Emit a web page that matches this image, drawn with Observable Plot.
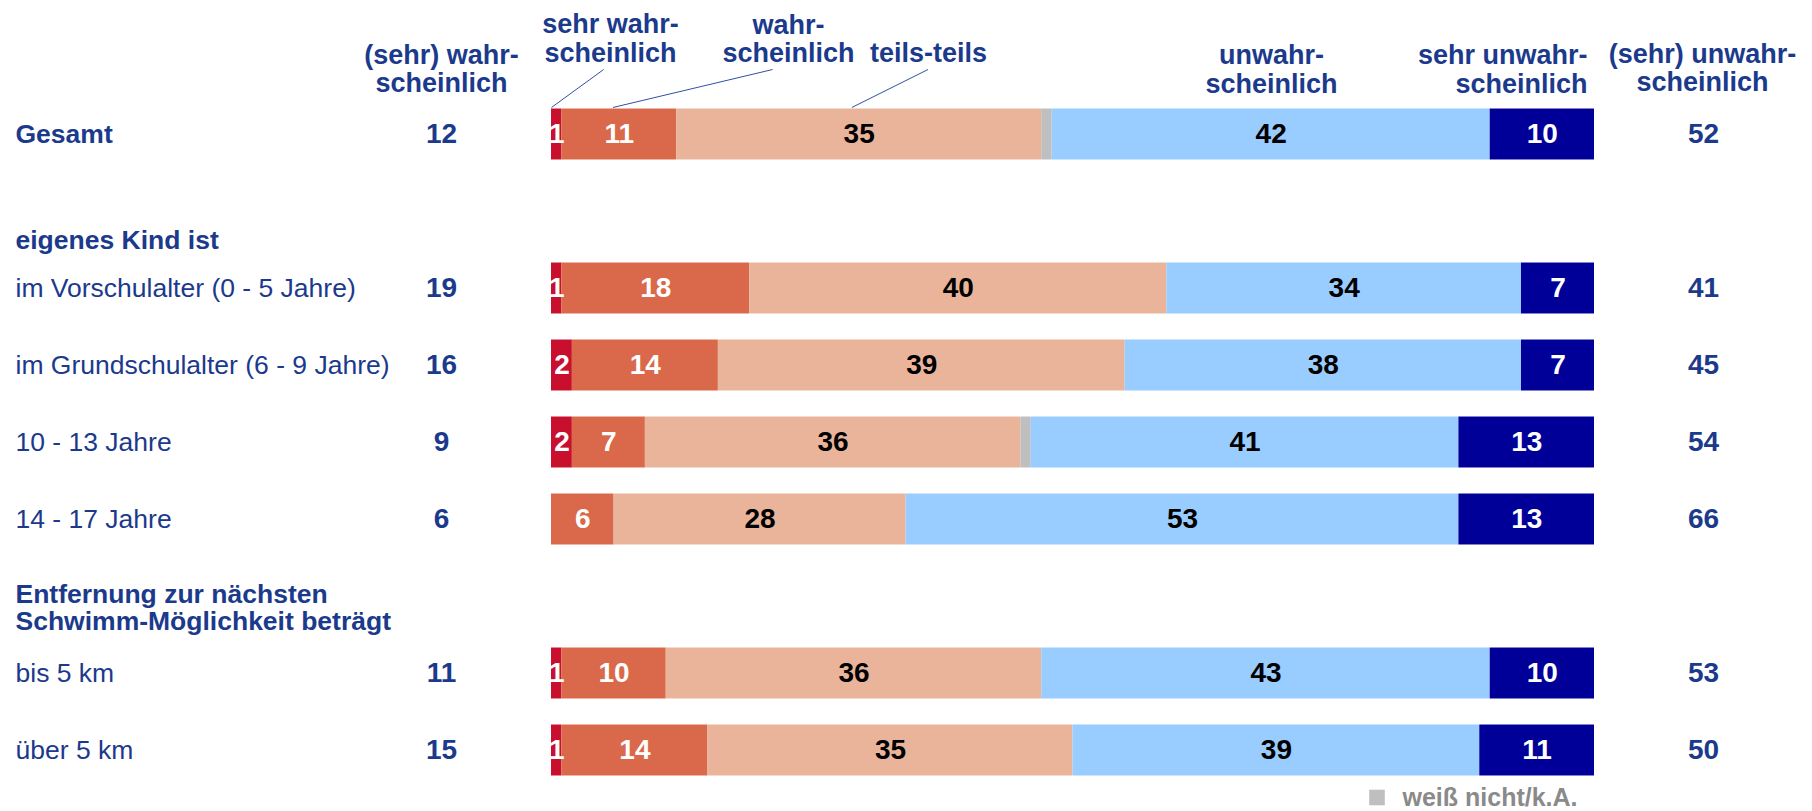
<!DOCTYPE html>
<html><head><meta charset="utf-8">
<script src="https://cdn.jsdelivr.net/npm/d3@7"></script>
<script src="https://cdn.jsdelivr.net/npm/@observablehq/plot@0.6"></script>
<style>body{margin:0;background:#fff} svg{display:block}</style>
</head><body><div id="chart"></div>
<script>
// ---- data ----
const layout = ["Gesamt", "eigenes Kind ist", "im Vorschulalter (0 - 5 Jahre)", "im Grundschulalter (6 - 9 Jahre)", "10 - 13 Jahre", "14 - 17 Jahre", "Entfernung zur nächsten\nSchwimm-Möglichkeit beträgt", "bis 5 km", "über 5 km"];
const rows = ["Gesamt", "im Vorschulalter (0 - 5 Jahre)", "im Grundschulalter (6 - 9 Jahre)", "10 - 13 Jahre", "14 - 17 Jahre", "bis 5 km", "über 5 km"];
const groupHeaders = ["eigenes Kind ist", "Entfernung zur nächsten\nSchwimm-Möglichkeit beträgt"];
const series = ["sehr wahrscheinlich", "wahrscheinlich", "teils-teils", "weiß nicht/k.A.", "unwahrscheinlich", "sehr unwahrscheinlich"];
const sehrWahr  = [1, 1, 2, 2, 0, 1, 1];
const wahr      = [11, 18, 14, 7, 6, 10, 14];
const teils     = [35, 40, 39, 36, 28, 36, 35];
const weissNicht= [1, 0, 0, 1, 0, 0, 0];
const unwahr    = [42, 34, 38, 41, 53, 43, 39];
const sehrUnwahr= [10, 7, 7, 13, 13, 10, 11];
const sumWahr   = [12, 19, 16, 9, 6, 11, 15];
const sumUnwahr = [52, 41, 45, 54, 66, 53, 50];
const headerLeft = "(sehr) wahr-\nscheinlich";
const headerRight = "(sehr) unwahr-\nscheinlich";
const segHeaders = ["sehr wahr-\nscheinlich", "wahr-\nscheinlich", "teils-teils", "unwahr-\nscheinlich", "sehr unwahr-\nscheinlich"];
const legendLabel = "weiß nicht/k.A.";

const colors = ["#c8102e", "#d9694a", "#eab49b", "#bfbfbf", "#99ccff", "#000099"];
const navy = "#1b3a8c";

// ---- build table ----
const valueArrays = [sehrWahr, wahr, teils, weissNicht, unwahr, sehrUnwahr];
const segs = [];
rows.forEach((r, i) => {
  let acc = 0;
  series.forEach((s, j) => {
    const v = valueArrays[j][i];
    segs.push({row: r, slot: layout.indexOf(r), series: s, j, value: v, x1: acc, x2: acc + v});
    acc += v;
  });
});
const rowData = rows.map((r, i) => ({row: r, slot: layout.indexOf(r), left: sumWahr[i], right: sumUnwahr[i]}));
const half = 0.331;
const g = segs.filter(d => d.row === "Gesamt");
const mid = j => (g[j].x1 + g[j].x2) / 2;

const font = "'Liberation Sans', Arial, Helvetica, sans-serif";
const numSize = 28;
const hdr = {fill: navy, fontWeight: "bold", fontSize: 27, lineHeight: 1.05, textAnchor: "middle", lineAnchor: "middle", frameAnchor: "top-left"};
const chart = Plot.plot({
  width: 1812, height: 811,
  marginLeft: 551, marginRight: 218, marginTop: 0, marginBottom: 0,
  style: {fontFamily: font, background: "#fff"},
  x: {domain: [0, 100], range: [551, 1594], axis: null},
  y: {domain: [0, 8], range: [134, 750], axis: null},
  color: {domain: series, range: colors},
  marks: [
    Plot.rectX(segs.filter(d => d.value > 0), {x1: "x1", x2: "x2", y1: d => d.slot - half, y2: d => d.slot + half, fill: "series"}),
    Plot.text(segs.filter(d => d.value > 0 && [0,1,5].includes(d.j)), {x: d => (d.x1 + d.x2) / 2, y: "slot", text: d => String(d.value), fill: "white", fontWeight: "bold", fontSize: numSize}),
    Plot.text(segs.filter(d => d.value > 0 && [2,4].includes(d.j)), {x: d => (d.x1 + d.x2) / 2, y: "slot", text: d => String(d.value), fill: "black", fontWeight: "bold", fontSize: numSize}),
    // sums
    Plot.text(rowData, {frameAnchor: "left", dx: -110, y: "slot", text: d => String(d.left), textAnchor: "middle", fill: navy, fontWeight: "bold", fontSize: numSize}),
    Plot.text(rowData, {frameAnchor: "right", dx: 109, y: "slot", text: d => String(d.right), textAnchor: "middle", fill: navy, fontWeight: "bold", fontSize: numSize}),
    // row labels
    Plot.text(rowData.filter(d => d.row === "Gesamt"), {frameAnchor: "left", dx: -536, y: "slot", text: "row", textAnchor: "start", fill: navy, fontWeight: "bold", fontSize: 26.5}),
    Plot.text(rowData.filter(d => d.row !== "Gesamt"), {frameAnchor: "left", dx: -536, y: "slot", text: "row", textAnchor: "start", fill: navy, fontSize: 26.5}),
    Plot.text([groupHeaders[0]], {frameAnchor: "left", dx: -536, y: () => layout.indexOf(groupHeaders[0]), dy: 29, text: d => d, textAnchor: "start", fill: navy, fontWeight: "bold", fontSize: 26.5}),
    Plot.text([groupHeaders[1]], {frameAnchor: "left", dx: -536, y: () => layout.indexOf(groupHeaders[1]), dy: 11, text: d => d, textAnchor: "start", fill: navy, fontWeight: "bold", fontSize: 26.5, lineHeight: 1.02}),
    // column headers
    Plot.text([headerLeft], {...hdr, dx: -110, dy: 68.5, text: d => d}),
    Plot.text([headerRight], {...hdr, dx: 1151, dy: 67.5, text: d => d}),
    Plot.text([segHeaders[0]], {...hdr, dx: 59, dy: 38, text: d => d}),
    Plot.text([segHeaders[1]], {...hdr, dx: 237, dy: 38.5, text: d => d}),
    Plot.text([segHeaders[2]], {...hdr, dx: 377, dy: 52, text: d => d}),
    Plot.text([segHeaders[3]], {...hdr, dx: 720, dy: 69, text: d => d}),
    Plot.text([segHeaders[4]], {...hdr, dx: 1036, dy: 69, text: d => d, textAnchor: "end"}),
    // leader lines
    Plot.link([
      {x1: 5.0, x2: g[0].x1},
      {x1: 21.2, x2: mid(1) - 0.6},
      {x1: 36.1, x2: mid(2) - 0.7}
    ], {x1: "x1", x2: "x2", y1: -0.844, y2: -half - 0.02, stroke: "#3050a0", strokeWidth: 1}),
    // legend
    Plot.dot([legendLabel], {frameAnchor: "top-left", dx: 825.5, dy: 797, symbol: "square", r: 8.8, fill: colors[3]}),
    Plot.text([legendLabel], {frameAnchor: "top-left", dx: 851, dy: 797, text: d => d, textAnchor: "start", lineAnchor: "middle", fill: "#8a8a8a", fontWeight: "bold", fontSize: 25})
  ]
});
document.getElementById("chart").appendChild(chart);
</script>
</body></html>
